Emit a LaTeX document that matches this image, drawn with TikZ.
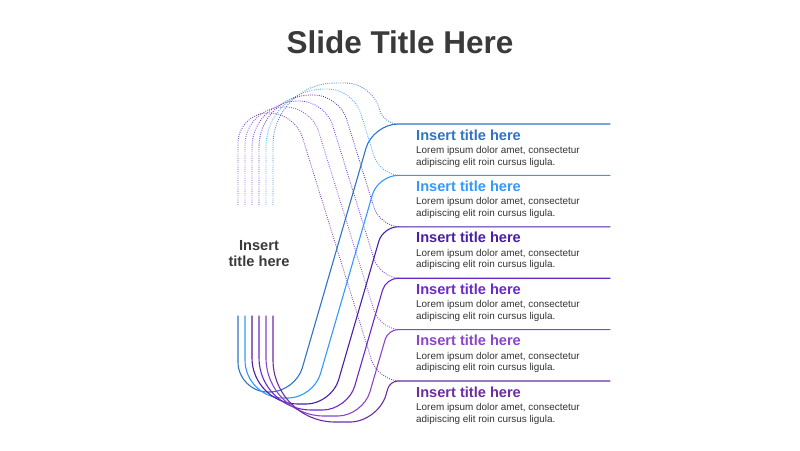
\documentclass[tikz,border=0pt]{standalone}
\usepackage{fontspec}
\setmainfont{Liberation Sans}
\usetikzlibrary{calc}
\definecolor{cA}{HTML}{2F74C6}
\definecolor{cB}{HTML}{3399FF}
\definecolor{cC}{HTML}{4A1FA8}
\definecolor{cD}{HTML}{6A2ACB}
\definecolor{cE}{HTML}{8A45CC}
\definecolor{cF}{HTML}{6C2DA0}
\definecolor{txt}{HTML}{3A3A3A}
\definecolor{bodytxt}{HTML}{333333}
% rounded corner: from point before corner #2 (coming from #1) to point after (towards #3), distance #4
\newcommand\rcorner[4]{-- ($(#2)!#4pt!(#1)$) .. controls ($(#2)!0.45*#4pt!(#1)$) and ($(#2)!0.45*#4pt!(#3)$) .. ($(#2)!#4pt!(#3)$)}
\begin{document}
\begin{tikzpicture}[x=1pt,y=-1pt,
  wire/.style={line width=1.1pt, line cap=round},
  dotwire/.style={line width=0.9pt, dash pattern=on 0.9pt off 1.3pt, opacity=0.85},
  slidetitle/.style={font=\fontsize{31.5}{36}\selectfont\bfseries, text=txt, inner sep=0pt},
  itemtitle/.style={font=\fontsize{14.6}{17}\selectfont\bfseries, inner sep=0pt, anchor=base west},
  itembody/.style={font=\fontsize{9.9}{12}\selectfont, text=bodytxt, inner sep=0pt, anchor=base west},
  centerlabel/.style={font=\fontsize{14.6}{17}\selectfont\bfseries, text=txt, inner sep=0pt, anchor=base}]
\fill[white] (0,0) rectangle (800,450);
\useasboundingbox (0,0) rectangle (800,450);

% title
\node[slidetitle, anchor=base] (title) at (400,53) {Slide Title Here};

% right end coordinates of horizontal lines
\foreach \k/\vy in {1/124,2/175.4,3/226.8,4/278.2,5/329.6,6/381}{
  \coordinate (sE\k) at (610,\vy);
}

% dotted upper wires
\foreach \k/\vx/\va/\vd/\vj/\vy/\vl/\vq/\vc in {
  1/273/83/371.3/384/124/62/14/cA,
  2/266/89/353.2/380/175.4/58/20/cB,
  3/259/95/339.1/380/226.8/52/20/cC,
  4/252/101/325.1/380/278.2/46/20/cD,
  5/245/107/311.0/380/329.6/38/20/cE,
  6/238/113/294.9/378/381/30/22/cF}{
  \coordinate (tA\k) at (\vx,205);
  \coordinate (tB\k) at (\vx,\va);
  \coordinate (tC\k) at (\vd,\va);
  \coordinate (tD\k) at (\vj,\vy);
  \draw[dotwire,\vc] (tA\k) \rcorner{tA\k}{tB\k}{tC\k}{\vl} \rcorner{tB\k}{tC\k}{tD\k}{25} \rcorner{tC\k}{tD\k}{sE\k}{\vq};
}

% solid lower wires
\foreach \k/\vx/\vb/\vd/\vj/\vy/\vl/\vr/\vq/\vc in {
  1/238/392/295.3/373/124/30/25/25/cA,
  2/245/398/313.4/378/175.4/38/25/20/cB,
  3/252/404/331.6/383/226.8/46/25/15/cC,
  4/259/410/347.8/386/278.2/52/25/12/cD,
  5/266/416/362.9/388/329.6/58/25/10/cE,
  6/273/422/378.1/390/381/62/28/8/cF}{
  \coordinate (sA\k) at (\vx,316);
  \coordinate (sB\k) at (\vx,\vb);
  \coordinate (sC\k) at (\vd,\vb);
  \coordinate (sD\k) at (\vj,\vy);
  \draw[wire,\vc] (sA\k) \rcorner{sA\k}{sB\k}{sC\k}{\vl} \rcorner{sB\k}{sC\k}{sD\k}{\vr} \rcorner{sC\k}{sD\k}{sE\k}{\vq} -- (sE\k);
}

% item texts
\foreach \k/\vy/\vc in {1/124/cA,2/175.4/cB,3/226.8/cC,4/278.2/cD,5/329.6/cE,6/381/cF}{
  \node[itemtitle, text=\vc] (h\k) at (416,\vy+16) {Insert title here};
  \node[itembody] (p\k) at (416,\vy+29.5) {Lorem ipsum dolor amet, consectetur};
  \node[itembody] (q\k) at (416,\vy+41) {adipiscing elit roin cursus ligula.};
}

% center label
\node[centerlabel] (cl1) at (259,250) {Insert};
\node[centerlabel] (cl2) at (259,266) {title here};
\end{tikzpicture}
\end{document}
